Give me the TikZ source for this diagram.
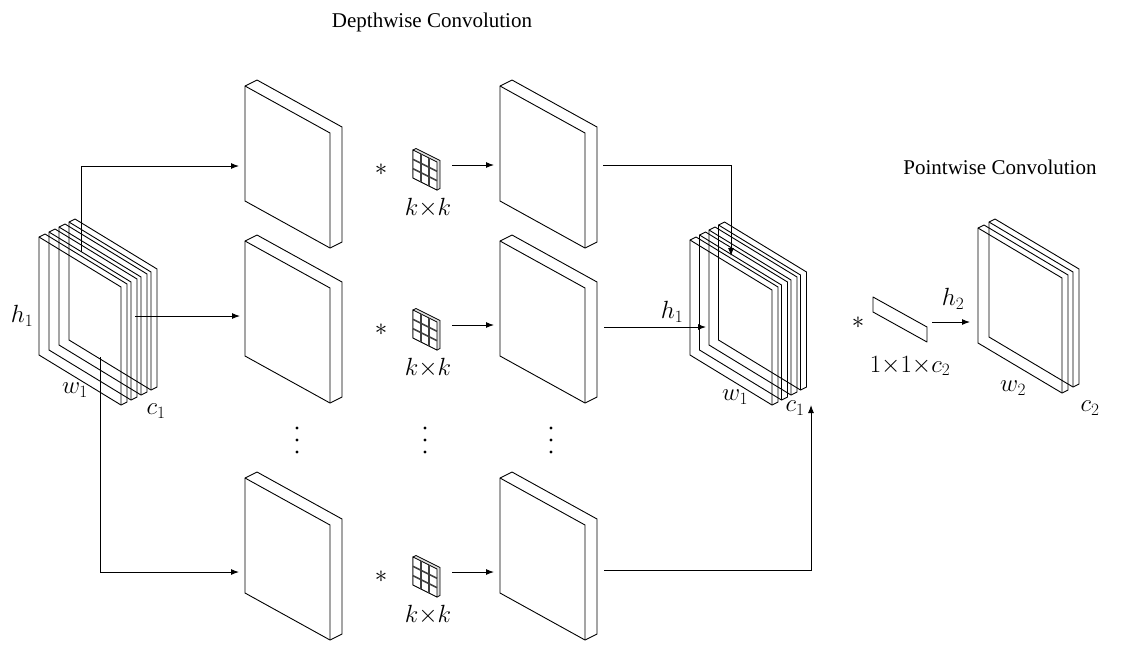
\documentclass[tikz,border=0pt]{standalone}
\usepackage{fontspec}
\setmainfont{Liberation Serif}
\usetikzlibrary{arrows.meta}
\tikzset{
  edge/.style={line width=0.9pt,line join=round},
  conn/.style={line width=1pt,-{Latex[length=8pt,width=6pt]}},
  lab/.style={font=\fontsize{25}{28}\selectfont,inner sep=0pt},
  ttl/.style={font=\fontsize{21}{24}\selectfont,inner sep=0pt},
}
% slab: x, y (front top-left), w, h, slope, depth, fill
\newcommand\myslab[7]{%
  \draw[edge,fill=#7] (#1,#2) -- ++(#6,-#6/2) -- ++(#3,#5) -- ++(0,#4) -- ++(-#6,#6/2) -- ++(-#3,-#5) -- cycle;
  \draw[edge] (#1,#2) -- ++(#3,#5) -- ++(0,#4);
}
\begin{document}
\begin{tikzpicture}[x=1pt,y=-1pt]
\useasboundingbox (0,0) rectangle (1126,654);
% titles
\node[ttl] (t1) at (432,22) {Depthwise Convolution};
\node[ttl] (t2) at (1000,167) {Pointwise Convolution};
% left stack
\foreach \i in {3,2,1,0}{\myslab{39+10*\i}{237-5*\i}{82}{118}{50}{6}{none}}
% columns
\foreach \x in {245,500}{
  \myslab{\x}{86}{85}{115}{47}{12}{white}
  \myslab{\x}{241}{85}{115}{47}{12}{white}
  \myslab{\x}{478}{85}{115}{47}{12}{white}
}
% kernels
\foreach \y/\n in {150/a,310/b,557/c}{
  \begin{scope}[shift={(413,\y)}]
    \draw[line width=0.8pt,fill=gray!25] (0,0) -- (3,-1.5) -- (27,10.5) -- (27,38.5) -- (24,40) -- (0,28) -- cycle;
    \draw[line width=0.8pt,fill=white] (0,0) -- (24,12) -- (24,40) -- (0,28) -- cycle;
    \foreach \k in {1,2}{
      \draw[line width=1.6pt,black!75] (8*\k,4*\k) -- (8*\k,4*\k+28);
      \draw[line width=1.6pt,black!75] (0,28*\k/3) -- (24,12+28*\k/3);
    }
  \end{scope}
  \node[lab] (st\n) at (381,\y+20) {$*$};
  \node[lab] (kk\n) at (428,\y+58) {$k{\times}k$};
}
% dots
\foreach \x in {297,425,551}{\foreach \yy in {428,440,452}{\fill (\x,\yy) circle (1.6pt);}}
% middle stack
\foreach \i in {3,2,1,0}{\myslab{690+9.5*\i}{240-5*\i}{82}{115}{50}{6}{none}}
% filter
\draw[edge,fill=white] (873,297) -- (927,327) -- (927,342) -- (873,312) -- cycle;
\node[lab] (st2) at (858,323) {$*$};
\node[lab] (f) at (910,366) {$1{\times}1{\times}c_2$};
% output stack
\foreach \i in {1,0}{\myslab{978+11*\i}{228-6*\i}{84}{115}{50}{6}{none}}
% labels
\node[lab] (h1a) at (22,316) {$h_1$};
\node[lab] (w1a) at (75,390) {$w_1$};
\node[lab] (c1a) at (156,411) {$c_1$};
\node[lab] (h1b) at (672,312) {$h_1$};
\node[lab] (w1b) at (735,397) {$w_1$};
\node[lab] (c1b) at (795,408) {$c_1$};
\node[lab] (h2) at (953,299) {$h_2$};
\node[lab] (w2) at (1013,388) {$w_2$};
\node[lab] (c2) at (1090,408) {$c_2$};
% connector coordinates
\coordinate (a1) at (81,252); \coordinate (a1e) at (239,166);
\coordinate (a2) at (135,316); \coordinate (a2e) at (240,316);
\coordinate (a3) at (100,357); \coordinate (a3e) at (239,572);
\draw[conn] (a1) |- (a1e);
\draw[conn] (a2) -- (a2e);
\draw[conn] (a3) |- (a3e);
\foreach \y/\n in {165/a,325/b,572/c}{
  \coordinate (ks\n) at (452,\y); \coordinate (ke\n) at (494,\y);
  \draw[conn] (ks\n) -- (ke\n);
}
\coordinate (b1) at (603,165); \coordinate (b1e) at (731,256);
\draw[conn] (b1) -| (b1e);
\coordinate (b2) at (604,327); \coordinate (b2e) at (706,327);
\draw[conn] (b2) -- (b2e);
\coordinate (b3) at (604,570); \coordinate (b3e) at (811,405);
\draw[conn] (b3) -| (b3e);
\coordinate (p1) at (932,322); \coordinate (p1e) at (970,322);
\draw[conn] (p1) -- (p1e);
\end{tikzpicture}
\end{document}
